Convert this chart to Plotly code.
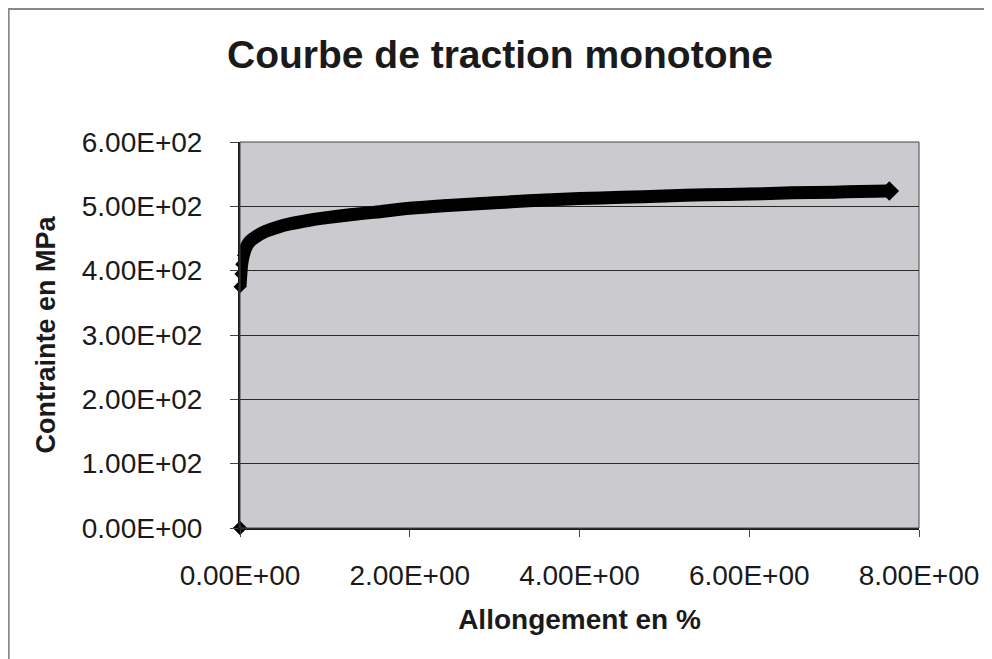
import plotly.graph_objects as go

# Data
origin_x = [0.0]
origin_y = [0.0]
strain = [0.0, 0.01, 0.02, 0.04, 0.07, 0.12, 0.2, 0.3, 0.45, 0.6, 0.8, 1.0, 1.3, 1.6,
          2.0, 2.4, 2.8, 3.2, 3.6, 4.0, 4.5, 5.0, 5.5, 6.0, 6.5, 7.0, 7.3, 7.65]
stress = [375, 395, 410, 424, 436, 446, 454, 461, 468, 473, 478, 482, 487, 491,
          497, 501, 504, 507, 510, 512, 514, 516, 518, 519, 521, 522, 523, 524]
x_ticks = [0, 2, 4, 6, 8]
x_labels = ["0.00E+00", "2.00E+00", "4.00E+00", "6.00E+00", "8.00E+00"]
y_ticks = [0, 100, 200, 300, 400, 500, 600]
y_labels = ["0.00E+00", "1.00E+02", "2.00E+02", "3.00E+02", "4.00E+02", "5.00E+02", "6.00E+02"]

font = "Liberation Sans, Arial, sans-serif"
W, H = 984, 651
L, T, PW, PH = 232, 134, 679, 386

fig = go.Figure()
fig.add_trace(go.Scatter(x=origin_x, y=origin_y, mode="markers",
                         marker=dict(symbol="diamond", size=11, color="black"),
                         showlegend=False, cliponaxis=False))
fig.add_trace(go.Scatter(x=strain, y=stress, mode="lines+markers",
                         line=dict(color="black", width=13, shape="spline", smoothing=0.6),
                         marker=dict(symbol="diamond", size=10, color="black"),
                         showlegend=False, cliponaxis=False))
fig.add_trace(go.Scatter(x=strain[-1:], y=stress[-1:], mode="markers",
                         marker=dict(symbol="diamond", size=15, color="black"),
                         showlegend=False, cliponaxis=False))

fig.update_layout(
    width=W, height=H,
    margin=dict(l=L, r=W - L - PW, t=T, b=H - T - PH),
    paper_bgcolor="white",
    plot_bgcolor="#cbcbcf",
    title=dict(text="<b>Courbe de traction monotone</b>", x=(500 - 8) / W, xanchor="center",
               y=1 - 46 / H, yanchor="middle",
               font=dict(family=font, size=39, color="#1a1a1a")),
    xaxis=dict(range=[0, 8], tickvals=x_ticks, ticktext=x_labels,
               showgrid=False, zeroline=False,
               showline=True, linecolor="#1a1a1a", linewidth=2,
               ticks="outside", ticklen=7, tickcolor="#444", tickwidth=1,
               ticklabelstandoff=14,
               tickfont=dict(family=font, size=28, color="#1a1a1a"),
               title=dict(text="<b>Allongement en %</b>", standoff=20,
                          font=dict(family=font, size=28, color="#1a1a1a"))),
    yaxis=dict(range=[0, 600], tickvals=y_ticks, ticktext=y_labels,
               showgrid=True, gridcolor="#2a2a2a", gridwidth=1, zeroline=False,
               showline=True, linecolor="#1a1a1a", linewidth=2,
               ticks="outside", ticklen=8, tickcolor="#444", tickwidth=1,
               ticklabelstandoff=22,
               tickfont=dict(family=font, size=28, color="#1a1a1a"),
               title=dict(text="<b>Contrainte en MPa</b>", standoff=18,
                          font=dict(family=font, size=27, color="#1a1a1a"))),
    shapes=[
        dict(type="rect", xref="paper", yref="paper", x0=0, x1=1, y0=0, y1=1,
             line=dict(color="#444", width=1), fillcolor="rgba(0,0,0,0)", layer="above"),
        dict(type="line", xref="paper", yref="paper", x0=-L / PW + 0.001, x1=-L / PW + 0.001,
             y0=-(H - T - PH) / PH, y1=1 + T / PH, line=dict(color="#888", width=2)),
        dict(type="line", xref="paper", yref="paper", x0=-L / PW, x1=1 + 71 / PW,
             y0=1 + (T - 1) / PH, y1=1 + (T - 1) / PH, line=dict(color="#888", width=2)),
        dict(type="line", xref="paper", yref="paper", x0=1 + 71 / PW, x1=1 + 71 / PW,
             y0=-(H - T - PH) / PH, y1=1 + T / PH, line=dict(color="#999", width=1.5)),
    ],
)

fig.write_html("out.html")
